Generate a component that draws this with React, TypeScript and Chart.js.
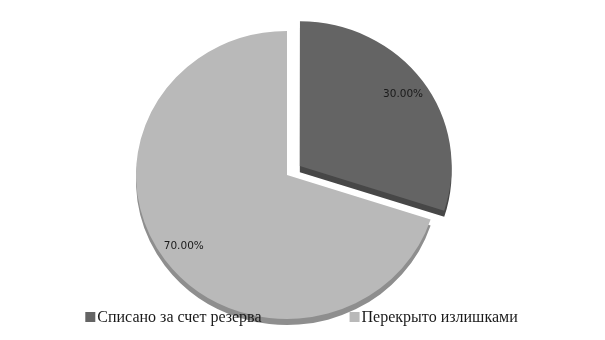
import React, { useEffect, useRef } from "react";
import { Chart, registerables } from "chart.js";

Chart.register(...registerables);

const categories = ["Списано за счет резерва", "Перекрыто излишками"];
const values = [30, 70];
const valueLabels = ["30.00%", "70.00%"];

const sliceColors = ["#646464", "#b9b9b9"];
const rimColors = ["#474747", "#8e8e8e"];

const R = 147.5;
const SX = 151 / R;
const SY = 144 / R;
const RIM = 6.2;
const OFFSET = 62;

function ellipseTransform(ctx: CanvasRenderingContext2D, cx: number, cy: number) {
  ctx.translate(cx, cy);
  ctx.scale(SX, SY);
  ctx.translate(-cx, -cy);
}

const pie3d = {
  id: "pie3d",
  beforeDatasetsDraw(chart: any) {
    const ctx = chart.ctx as CanvasRenderingContext2D;
    const meta = chart.getDatasetMeta(0);
    const el0 = meta.data[0];
    if (!el0) return;
    ctx.save();
    ellipseTransform(ctx, el0.x, el0.y);
    meta.data.forEach((el: any, i: number) => {
      const orig = el.options;
      el.options = { ...orig, backgroundColor: rimColors[i], borderColor: rimColors[i], borderWidth: 0 };
      ctx.save();
      ctx.translate(0, RIM);
      el.draw(ctx);
      ctx.restore();
      el.options = orig;
    });
  },
  afterDatasetsDraw(chart: any) {
    const ctx = chart.ctx as CanvasRenderingContext2D;
    ctx.restore();
    const meta = chart.getDatasetMeta(0);
    ctx.save();
    ctx.font = "10.5px 'DejaVu Sans'";
    ctx.fillStyle = "#1a1a1a";
    ctx.textAlign = "center";
    ctx.textBaseline = "middle";
    meta.data.forEach((el: any, i: number) => {
      const mid = (el.startAngle + el.endAngle) / 2;
      const off = (el.options.offset || 0) / 4;
      const r = el.outerRadius * 0.845;
      const px = el.x + Math.cos(mid) * (r + off);
      const py = el.y + Math.sin(mid) * (r + off);
      const ex = el.x + (px - el.x) * SX;
      const ey = el.y + (py - el.y) * SY;
      ctx.fillText(valueLabels[i], ex, ey);
    });
    ctx.restore();
  },
  afterDraw(chart: any) {
    const ctx = chart.ctx as CanvasRenderingContext2D;
    ctx.save();
    ctx.font = "16px 'Liberation Serif'";
    ctx.textBaseline = "alphabetic";
    ctx.textAlign = "left";
    const box = 10;
    const gap = 2;
    const spacing = 88;
    const widths = categories.map((c) => box + gap + ctx.measureText(c).width);
    const total = widths.reduce((a, b) => a + b, 0) + spacing * (categories.length - 1);
    let x = chart.width / 2 - total / 2 - 1;
    const baseline = 314;
    categories.forEach((c, i) => {
      ctx.fillStyle = sliceColors[i];
      ctx.fillRect(x, baseline - 10, box, box);
      ctx.fillStyle = "#1a1a1a";
      ctx.fillText(c, x + box + gap, baseline);
      x += widths[i] + spacing;
    });
    ctx.restore();
  },
};

export default function App() {
  const ref = useRef<HTMLCanvasElement>(null);
  useEffect(() => {
    if (!ref.current) return;
    const chart = new Chart(ref.current, {
      type: "pie",
      data: {
        labels: categories,
        datasets: [
          {
            data: values,
            backgroundColor: sliceColors,
            borderWidth: 0,
            offset: [OFFSET, 0],
            hoverOffset: 0,
          },
        ],
      },
      options: {
        animation: false,
        responsive: true,
        maintainAspectRatio: false,
        radius: R,
        layout: { padding: { left: 0, right: 31, top: 10, bottom: 0 } },
        plugins: {
          legend: { display: false },
          tooltip: { enabled: false },
        },
        events: [],
      } as any,
      plugins: [pie3d],
    });
    return () => chart.destroy();
  }, []);
  return (
    <div style={{ position: "relative", width: 589, height: 324 }}>
      <canvas ref={ref} />
    </div>
  );
}
